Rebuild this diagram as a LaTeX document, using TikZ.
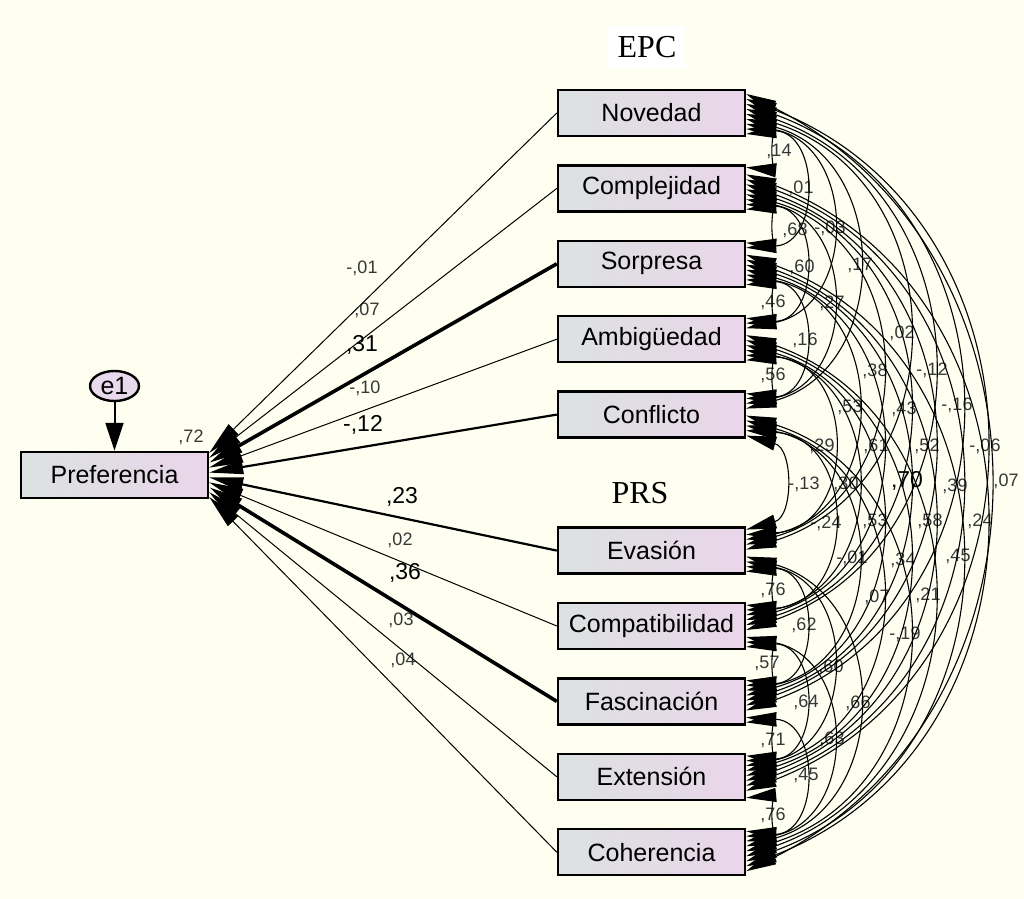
\documentclass[tikz,border=0pt]{standalone}
\usepackage{fontspec}
\setmainfont{Liberation Sans}
\newfontfamily\grpfont{Liberation Serif}
\usetikzlibrary{positioning,arrows.meta,shapes.geometric}

\definecolor{paper}{RGB}{254,254,241}
\definecolor{boxl}{RGB}{220,226,225}
\definecolor{boxr}{RGB}{234,213,234}
\definecolor{errfill}{RGB}{232,218,236}
\definecolor{lblgray}{RGB}{55,55,55}

\begin{document}
\begin{tikzpicture}[x=0.5pt, y=0.5pt, node distance=13.5pt,
    var/.style = {draw, line width=1.2pt, left color=boxl, right color=boxr, minimum width=93.5pt, minimum height=23pt, font=\fontsize{12.5}{14}\selectfont},
    err/.style = {draw, ellipse, line width=1.2pt, fill=errfill, minimum width=24.5pt, minimum height=15pt, inner sep=0pt, font=\fontsize{12.5}{14}\selectfont},
    grp/.style = {font=\grpfont\fontsize{16}{18}\selectfont},
    coef/.style = {text=lblgray, inner sep=0pt, font=\fontsize{9}{10}\selectfont},
    big/.style = {text=black, font=\fontsize{11.5}{13}\selectfont},
    reg/.style = {-{Triangle[length=17pt,width=7pt]}, line width=0.5pt},
    regm/.style = {reg, line width=1.1pt},
    regt/.style = {reg, line width=1.8pt},
    cov/.style = {{Triangle[length=15pt,width=7pt]}-{Triangle[length=15pt,width=7pt]}, line width=0.55pt},
    cv1/.style = {cov, bend left=95.5, looseness=1.88},
    cv2/.style = {cov, bend left=86.5, looseness=1.6},
    cv3/.style = {cov, bend left=78.7, looseness=1.42},
    cv4/.style = {cov, bend left=74.5, looseness=1.34},
    cv5/.style = {cov, bend left=72.6, looseness=1.31},
    cv6/.style = {cov, bend left=70.7, looseness=1.28},
    cv7/.style = {cov, bend left=70, looseness=1.27},
    cv8/.style = {cov, bend left=68.9, looseness=1.25},
    cv9/.style = {cov, bend left=63.6, looseness=1.18}]
    \useasboundingbox (0,0) rectangle (1024,-899);
    \fill[paper] (0,0) rectangle (1024,-899);

    \node[grp, fill=white, inner sep=5pt] (epc) at (647,-47) {EPC};
    \node[grp] (prs) at (640,-493) {PRS};

    \node[var] (pref) at (114.5,-475) {Preferencia};
    \node[err] (e1) [above=24.3pt of pref] {e1};

    \node[var] (nov) at (651.5,-113) {Novedad};
    \node[var] (cpx) [below=of nov] {Complejidad};
    \node[var] (sor) [below=of cpx] {Sorpresa};
    \node[var] (amb) [below=of sor] {Ambigüedad};
    \node[var] (con) [below=of amb] {Conflicto};
    \node[var] (eva) [below=43.8pt of con] {Evasión};
    \node[var] (cmp) [below=of eva] {Compatibilidad};
    \node[var] (fas) [below=of cmp] {Fascinación};
    \node[var] (ext) [below=of fas] {Extensión};
    \node[var] (coh) [below=of ext] {Coherencia};

    \draw[-{Triangle[length=14pt,width=9pt]}, line width=1pt] (e1) -- (pref);

    \node[coef] (r0) at (191,-437) {,72};
    \node[coef] (b1) at (362,-268) {-,01};
    \node[coef] (b2) at (367,-310) {,07};
    \node[coef,big] (b3) at (362,-345) {,31};
    \node[coef] (b4) at (365,-388) {-,10};
    \node[coef,big] (b5) at (363,-425) {-,12};
    \node[coef,big] (b6) at (402,-497) {,23};
    \node[coef] (b7) at (400,-540) {,02};
    \node[coef,big] (b8) at (405,-573) {,36};
    \node[coef] (b9) at (401,-620) {,03};
    \node[coef] (b10) at (403,-660) {,04};

    \draw[reg] (nov.west) -- ([yshift=11pt]pref.east);
    \draw[reg] (cpx.west) -- ([yshift=8.6pt]pref.east);
    \draw[regt] (sor.west) -- ([yshift=6.1pt]pref.east);
    \draw[reg] (amb.west) -- ([yshift=3.7pt]pref.east);
    \draw[regm] (con.west) -- ([yshift=1.2pt]pref.east);
    \draw[regm] (eva.west) -- ([yshift=-1.2pt]pref.east);
    \draw[reg] (cmp.west) -- ([yshift=-3.7pt]pref.east);
    \draw[regt] (fas.west) -- ([yshift=-6.1pt]pref.east);
    \draw[reg] (ext.west) -- ([yshift=-8.6pt]pref.east);
    \draw[reg] (coh.west) -- ([yshift=-11pt]pref.east);

    \node[coef] (r1-2) at (779,-151) {,14};
    \node[coef] (r2-3) at (795,-230) {,68};
    \node[coef] (r3-4) at (773,-302) {,46};
    \node[coef] (r4-5) at (773,-375) {,56};
    \node[coef] (r5-6) at (804,-484) {-,13};
    \node[coef] (r6-7) at (773,-590) {,76};
    \node[coef] (r7-8) at (767,-663) {,57};
    \node[coef] (r8-9) at (773,-740) {,71};
    \node[coef] (r9-10) at (773,-815) {,76};
    \node[coef] (r1-3) at (801,-188) {,01};
    \node[coef] (r2-4) at (802,-267) {,60};
    \node[coef] (r3-5) at (805,-340) {,16};
    \node[coef] (r4-6) at (822,-446) {,29};
    \node[coef] (r5-7) at (826,-523) {-,24};
    \node[coef] (r6-8) at (804,-625) {,62};
    \node[coef] (r7-9) at (806,-702) {,64};
    \node[coef] (r8-10) at (806,-775) {,45};
    \node[coef] (r1-4) at (830,-228) {-,03};
    \node[coef] (r2-5) at (832,-303) {,27};
    \node[coef] (r3-6) at (850,-407) {,53};
    \node[coef] (r4-7) at (846,-484) {,30};
    \node[coef] (r5-8) at (852,-558) {-,01};
    \node[coef] (r6-9) at (831,-667) {,60};
    \node[coef] (r7-10) at (832,-739) {,63};
    \node[coef] (r1-5) at (860,-265) {,17};
    \node[coef] (r2-6) at (875,-371) {,38};
    \node[coef] (r3-7) at (876,-446) {,61};
    \node[coef] (r4-8) at (875,-521) {,53};
    \node[coef] (r5-9) at (877,-597) {,07};
    \node[coef] (r6-10) at (858,-703) {,66};
    \node[coef] (r1-6) at (902,-333) {,02};
    \node[coef] (r2-7) at (904,-409) {,43};
    \node[coef,big] (r3-8) at (907,-481) {,70};
    \node[coef] (r4-9) at (903,-560) {,34};
    \node[coef] (r5-10) at (905,-634) {-,19};
    \node[coef] (r1-7) at (932,-370) {-,12};
    \node[coef] (r2-8) at (927,-446) {,52};
    \node[coef] (r3-9) at (930,-521) {,58};
    \node[coef] (r4-10) at (928,-595) {,21};
    \node[coef] (r1-8) at (957,-405) {-,16};
    \node[coef] (r2-9) at (955,-486) {,39};
    \node[coef] (r3-10) at (958,-556) {,45};
    \node[coef] (r1-9) at (985,-446) {-,06};
    \node[coef] (r2-10) at (980,-521) {,24};
    \node[coef] (r1-10) at (1006,-481) {,07};

    \draw[cv1] ([yshift=-10.5pt]nov.east) to ([yshift=10.5pt]cpx.east);
    \draw[cv1] ([yshift=-10.5pt]cpx.east) to ([yshift=10.5pt]sor.east);
    \draw[cv1] ([yshift=-10.5pt]sor.east) to ([yshift=10.5pt]amb.east);
    \draw[cv1] ([yshift=-10.5pt]amb.east) to ([yshift=10.5pt]con.east);
    \draw[cv4] ([yshift=-10.5pt]con.east) to ([yshift=10.5pt]eva.east);
    \draw[cv1] ([yshift=-10.5pt]eva.east) to ([yshift=10.5pt]cmp.east);
    \draw[cv1] ([yshift=-10.5pt]cmp.east) to ([yshift=10.5pt]fas.east);
    \draw[cv1] ([yshift=-10.5pt]fas.east) to ([yshift=10.5pt]ext.east);
    \draw[cv1] ([yshift=-10.5pt]ext.east) to ([yshift=10.5pt]coh.east);
    \draw[cv2] ([yshift=-8pt]nov.east) to ([yshift=8pt]sor.east);
    \draw[cv2] ([yshift=-8pt]cpx.east) to ([yshift=8pt]amb.east);
    \draw[cv2] ([yshift=-8pt]sor.east) to ([yshift=8pt]con.east);
    \draw[cv2] ([yshift=-8pt]amb.east) to ([yshift=8pt]eva.east);
    \draw[cv2] ([yshift=-8pt]con.east) to ([yshift=8pt]cmp.east);
    \draw[cv2] ([yshift=-8pt]eva.east) to ([yshift=8pt]fas.east);
    \draw[cv2] ([yshift=-8pt]cmp.east) to ([yshift=8pt]ext.east);
    \draw[cv2] ([yshift=-8pt]fas.east) to ([yshift=8pt]coh.east);
    \draw[cv3] ([yshift=-5.5pt]nov.east) to ([yshift=5.5pt]amb.east);
    \draw[cv3] ([yshift=-5.5pt]cpx.east) to ([yshift=5.5pt]con.east);
    \draw[cv3] ([yshift=-5.5pt]sor.east) to ([yshift=5.5pt]eva.east);
    \draw[cv3] ([yshift=-5.5pt]amb.east) to ([yshift=5.5pt]cmp.east);
    \draw[cv3] ([yshift=-5.5pt]con.east) to ([yshift=5.5pt]fas.east);
    \draw[cv3] ([yshift=-5.5pt]eva.east) to ([yshift=5.5pt]ext.east);
    \draw[cv3] ([yshift=-5.5pt]cmp.east) to ([yshift=5.5pt]coh.east);
    \draw[cv4] ([yshift=-3pt]nov.east) to ([yshift=3pt]con.east);
    \draw[cv4] ([yshift=-3pt]cpx.east) to ([yshift=3pt]eva.east);
    \draw[cv4] ([yshift=-3pt]sor.east) to ([yshift=3pt]cmp.east);
    \draw[cv4] ([yshift=-3pt]amb.east) to ([yshift=3pt]fas.east);
    \draw[cv4] ([yshift=-3pt]con.east) to ([yshift=3pt]ext.east);
    \draw[cv4] ([yshift=-3pt]eva.east) to ([yshift=3pt]coh.east);
    \draw[cv5] ([yshift=-0.5pt]nov.east) to ([yshift=0.5pt]eva.east);
    \draw[cv5] ([yshift=-0.5pt]cpx.east) to ([yshift=0.5pt]cmp.east);
    \draw[cv5] ([yshift=-0.5pt]sor.east) to ([yshift=0.5pt]fas.east);
    \draw[cv5] ([yshift=-0.5pt]amb.east) to ([yshift=0.5pt]ext.east);
    \draw[cv5] ([yshift=-0.5pt]con.east) to ([yshift=0.5pt]coh.east);
    \draw[cv6] ([yshift=2pt]nov.east) to ([yshift=-2pt]cmp.east);
    \draw[cv6] ([yshift=2pt]cpx.east) to ([yshift=-2pt]fas.east);
    \draw[cv6] ([yshift=2pt]sor.east) to ([yshift=-2pt]ext.east);
    \draw[cv6] ([yshift=2pt]amb.east) to ([yshift=-2pt]coh.east);
    \draw[cv7] ([yshift=4.5pt]nov.east) to ([yshift=-4.5pt]fas.east);
    \draw[cv7] ([yshift=4.5pt]cpx.east) to ([yshift=-4.5pt]ext.east);
    \draw[cv7] ([yshift=4.5pt]sor.east) to ([yshift=-4.5pt]coh.east);
    \draw[cv8] ([yshift=7pt]nov.east) to ([yshift=-7pt]ext.east);
    \draw[cv8] ([yshift=7pt]cpx.east) to ([yshift=-7pt]coh.east);
    \draw[cv9] ([yshift=9.5pt]nov.east) to ([yshift=-9.5pt]coh.east);
\end{tikzpicture}
\end{document}
